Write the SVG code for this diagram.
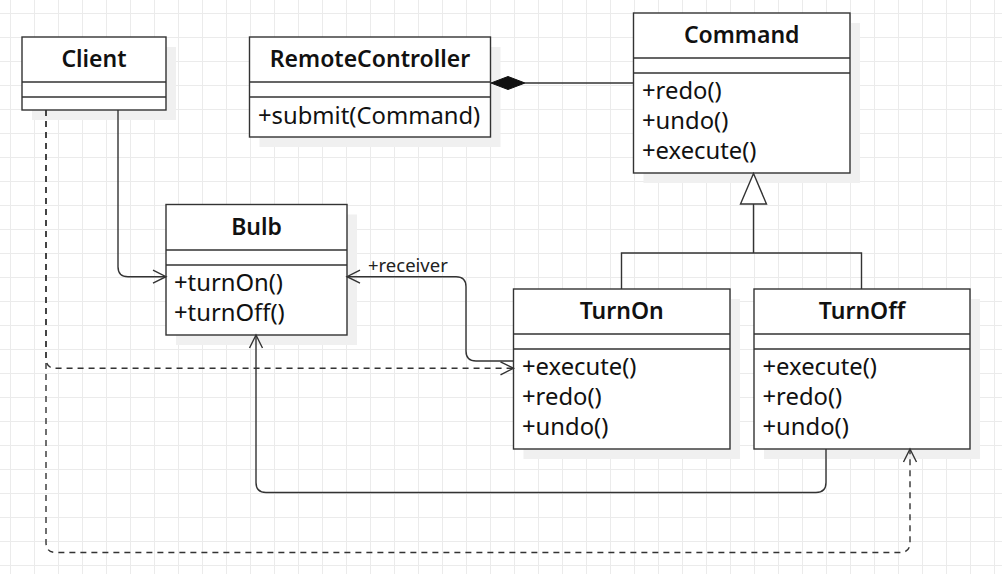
<svg xmlns="http://www.w3.org/2000/svg" width="1002" height="574" viewBox="0 0 1002 574">
<style>
.box{fill:#fff;stroke:#333;stroke-width:1.4}
.shadow{fill:#f0f0f0}
.div{stroke:#333;stroke-width:1.4;fill:none}
.title{font-family:"Noto Sans","Liberation Sans",sans-serif;font-weight:600;font-size:23px;fill:#111;text-anchor:middle}
.m{font-family:"Noto Sans","Liberation Sans",sans-serif;font-size:23.8px;fill:#111}
.lbl{font-family:"Noto Sans","Liberation Sans",sans-serif;font-size:18.5px;fill:#222}
.ln{fill:none;stroke:#333;stroke-width:1.4}
.dash{fill:none;stroke:#333;stroke-width:1.4;stroke-dasharray:6 5}
.ah{fill:none;stroke:#333;stroke-width:1.4}
</style>
<defs>
<pattern id="grid" x="10" y="13" width="24" height="24" patternUnits="userSpaceOnUse">
<path d="M0.5,0 V24 M0,0.5 H24" stroke="#ebebeb" stroke-width="1" fill="none"/>
</pattern>
</defs>
<rect width="1002" height="574" fill="#fff"/>
<rect width="1002" height="574" fill="url(#grid)"/>

<g id="client">
<rect class="shadow" x="32" y="47" width="144" height="73"/>
<rect class="box" x="22" y="37" width="144" height="73"/>
<path class="div" d="M22,82 H166 M22,97 H166"/>
<text class="title" x="94" y="67">Client</text>
</g>

<g id="remotecontroller">
<rect class="shadow" x="259.5" y="47" width="241" height="100"/>
<rect class="box" x="249.5" y="37" width="241" height="100"/>
<path class="div" d="M249.5,82 H490.5 M249.5,97 H490.5"/>
<text class="title" x="370" y="67">RemoteController</text>
<text class="m" x="258" y="123.5">+submit(Command)</text>
</g>

<g id="command">
<rect class="shadow" x="643.5" y="23" width="216.5" height="160"/>
<rect class="box" x="633.5" y="13" width="216.5" height="160"/>
<path class="div" d="M633.5,58 H850 M633.5,73 H850"/>
<text class="title" x="741.7" y="43">Command</text>
<text class="m" x="642" y="99">+redo()</text>
<text class="m" x="642" y="129">+undo()</text>
<text class="m" x="642" y="159">+execute()</text>
</g>

<g id="bulb">
<rect class="shadow" x="176" y="214.5" width="181" height="130.5"/>
<rect class="box" x="166" y="204.5" width="181" height="130.5"/>
<path class="div" d="M166,250 H347 M166,265 H347"/>
<text class="title" x="256.5" y="235">Bulb</text>
<text class="m" x="174" y="291">+turnOn()</text>
<text class="m" x="174" y="321">+turnOff()</text>
</g>

<g id="turnon">
<rect class="shadow" x="523.5" y="299" width="216.5" height="160"/>
<rect class="box" x="513.5" y="289" width="216.5" height="160"/>
<path class="div" d="M513.5,334 H730 M513.5,349 H730"/>
<text class="title" x="621.7" y="319">TurnOn</text>
<text class="m" x="522" y="375">+execute()</text>
<text class="m" x="522" y="405">+redo()</text>
<text class="m" x="522" y="435">+undo()</text>
</g>

<g id="turnoff">
<rect class="shadow" x="764" y="299" width="216" height="160"/>
<rect class="box" x="754" y="289" width="216" height="160"/>
<path class="div" d="M754,334 H970 M754,349 H970"/>
<text class="title" x="862" y="319">TurnOff</text>
<text class="m" x="762.5" y="375">+execute()</text>
<text class="m" x="762.5" y="405">+redo()</text>
<text class="m" x="762.5" y="435">+undo()</text>
</g>

<g id="connectors">
<!-- composition -->
<path class="ln" d="M525,83 H633.5"/>
<polygon points="491,83 508,76.5 525,83 508,89.5" fill="#111" stroke="#111" stroke-width="1"/>
<!-- inheritance -->
<path class="ln" d="M753.5,204 V253 M621.5,289 V253 H861.5 V289"/>
<polygon points="753.5,173.5 740.5,204 766.5,204" fill="#fff" stroke="#333" stroke-width="1.4"/>
<!-- Client -> Bulb -->
<path class="ln" d="M118,110 V266.7 Q118,276.7 128,276.7 H166"/>
<path class="ah" d="M153,270.2 L166,276.7 L153,283.2"/>
<!-- TurnOn -> Bulb receiver -->
<path class="ln" d="M513.5,361 H476 Q466,361 466,351 V286.7 Q466,276.7 456,276.7 H347"/>
<path class="ah" d="M360,270.2 L347,276.7 L360,283.2"/>
<text class="lbl" x="368" y="272">+receiver</text>
<!-- TurnOff -> Bulb -->
<path class="ln" d="M826,449 V482.5 Q826,492.5 816,492.5 H266 Q256,492.5 256,482.5 V335"/>
<path class="ah" d="M249.5,348 L256,335 L262.5,348"/>
<!-- Client dashed -> TurnOn -->
<path class="dash" d="M46,110 V358.3 Q46,368.3 56,368.3 H513.5"/>
<path class="ah" d="M500.5,361.8 L513.5,368.3 L500.5,374.8"/>
<!-- Client dashed -> TurnOff -->
<path class="dash" d="M46,110 V542.5 Q46,552.5 56,552.5 H900 Q910,552.5 910,542.5 V449"/>
<path class="ah" d="M903.5,462 L910,449 L916.5,462"/>
</g>
</svg>
